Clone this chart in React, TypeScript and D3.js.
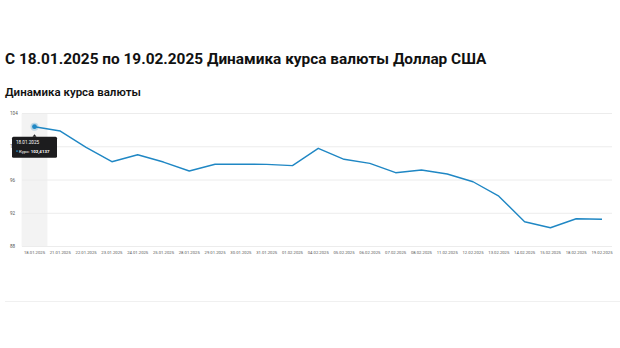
import React from "react";
import * as d3 from "d3";

// Курс доллара США по датам
const dates = [
  "18.01.2025", "21.01.2025", "22.01.2025", "23.01.2025", "24.01.2025", "25.01.2025",
  "28.01.2025", "29.01.2025", "30.01.2025", "31.01.2025", "01.02.2025", "04.02.2025",
  "05.02.2025", "06.02.2025", "07.02.2025", "08.02.2025", "11.02.2025", "12.02.2025",
  "13.02.2025", "14.02.2025", "15.02.2025", "18.02.2025", "19.02.2025",
];
const rates = [
  102.4137, 101.89, 99.93, 98.2, 99.04, 98.16,
  97.08, 97.9, 97.9, 97.88, 97.73, 99.81,
  98.49, 98.0, 96.88, 97.2, 96.72, 95.79,
  94.05, 90.98, 90.26, 91.34, 91.27,
];
const yTicks = [88, 92, 96, 100, 104];
const activeIndex = 0;

const W = 620;
const H = 348;
const FONT = "Roboto, 'Noto Sans', Arial, sans-serif";
const LINE = "#1f87c4";

export default function App() {
  const plotLeft = 22;
  const plotRight = 612;
  const x = d3.scalePoint<string>().domain(dates).range([34.5, 602]);
  const step = x.step();
  const y = d3.scaleLinear().domain([88, 104]).range([246.5, 113.5]);

  const line = d3
    .line<number>()
    .x((_, i) => x(dates[i]) as number)
    .y((d) => y(d));

  const ax = x(dates[activeIndex]) as number;
  const ay = y(rates[activeIndex]);
  const rateText = rates[activeIndex].toFixed(4).replace(".", ",");

  return (
    <svg
      width={W}
      height={H}
      viewBox={`0 0 ${W} ${H}`}
      style={{ position: "absolute", left: 0, top: 0, background: "#fff" }}
      fontFamily={FONT}
    >
      <text x={5} y={64} fontSize={15.4} fontWeight={700} fill="#111">
        С 18.01.2025 по 19.02.2025 Динамика курса валюты Доллар США
      </text>
      <text x={5} y={95.5} fontSize={11.5} fontWeight={600} fill="#111">
        Динамика курса валюты
      </text>

      {/* hover band */}
      <rect
        x={ax - step / 2}
        y={y(104)}
        width={step}
        height={y(88) - y(104)}
        fill="#f3f3f3"
      />

      {/* grid */}
      {yTicks.map((t) => (
        <g key={t}>
          <line
            x1={plotLeft}
            x2={plotRight}
            y1={y(t)}
            y2={y(t)}
            stroke="#ececec"
            strokeWidth={1}
          />
          <text x={10} y={y(t) + 1.6} fontSize={4.6} fill="#555">
            {t}
          </text>
        </g>
      ))}

      {dates.map((d) => (
        <text
          key={d}
          x={x(d) as number}
          y={254}
          fontSize={4.2}
          fill="#555"
          textAnchor="middle"
        >
          {d}
        </text>
      ))}

      <path d={line(rates) ?? ""} fill="none" stroke={LINE} strokeWidth={1.4} strokeLinejoin="round" />

      {/* active point */}
      <circle cx={ax} cy={ay} r={4} fill={LINE} opacity={0.25} />
      <circle cx={ax} cy={ay} r={2.4} fill={LINE} />

      {/* tooltip */}
      <g>
        <path d={`M${ax - 2},${ay + 10} L${ax},${ay + 7.5} L${ax + 2},${ay + 10} Z`} fill="#1c1c1e" />
        <rect x={ax - 22.5} y={ay + 10} width={45} height={21} rx={1.5} fill="#1c1c1e" />
        <text x={ax - 18.5} y={ay + 17} fontSize={4.6} fill="#fff">
          {dates[activeIndex]}
        </text>
        <circle cx={ax - 17.5} cy={ay + 24.4} r={0.9} fill={LINE} />
        <text x={ax - 15.5} y={ay + 26} fontSize={4.4} fill="#fff">
          {"Курс: "}
          <tspan fontWeight={700}>{rateText}</tspan>
        </text>
      </g>

      {/* separator */}
      <line x1={5} x2={620} y1={301.5} y2={301.5} stroke="#f0f0f0" strokeWidth={1} />
    </svg>
  );
}
